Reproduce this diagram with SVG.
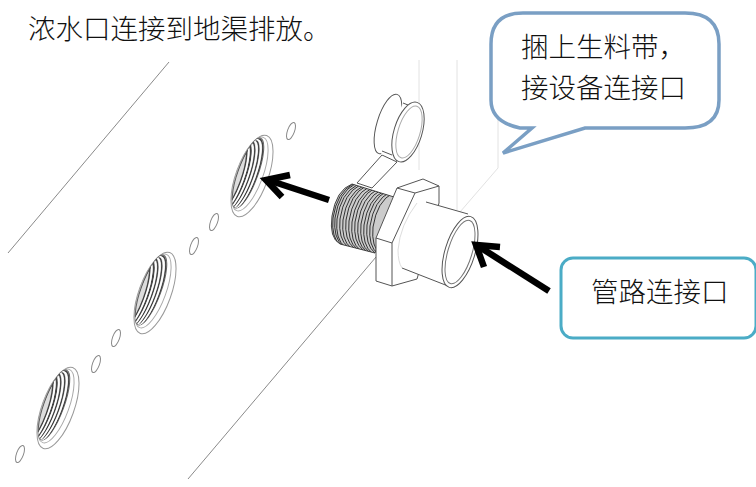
<svg xmlns="http://www.w3.org/2000/svg" width="756" height="487" viewBox="0 0 756 487">
<style>
.t{font-family:"Noto Sans CJK SC","Noto Sans CJK JP",sans-serif;font-size:27.5px;font-weight:300;fill:#111}
.l{fill:none;stroke:#8a8a8a;stroke-width:1}
.w{fill:#fff;stroke:#555;stroke-width:1;stroke-linejoin:round}
.n{fill:none;stroke:#555;stroke-width:1}
.f{fill:none;stroke:#e2e2e2;stroke-width:1}
.a{fill:none;stroke:#000;stroke-width:6.5}
.th{fill:none;stroke:#333;stroke-width:1}
.sm{fill:#fff;stroke:#888;stroke-width:1}
</style>
<defs>
<clipPath id="bore"><ellipse cx="0" cy="0" rx="10" ry="37" transform="rotate(20)"/></clipPath>
<clipPath id="threadclip"><path d="M352,184Q336,190 332,216Q329,238 340,244L375,253L394,197Z"/></clipPath>
<ellipse id="ring" cx="0" cy="0" rx="10" ry="37" transform="rotate(20)"/>
<path id="turn" d="M352,184Q336,192 332,218Q330,238 340,246"/>
<g id="port">
<ellipse cx="4" cy="3" rx="16" ry="43" transform="rotate(20 4 3)" fill="#fff" stroke="#999"/>
<ellipse cx="2" cy="1" rx="13" ry="39" transform="rotate(20 2 1)" fill="#fff" stroke="#aaa"/>
<ellipse cx="0" cy="0" rx="10" ry="37" transform="rotate(20)" fill="#ddd" stroke="#666"/>
<g clip-path="url(#bore)">
<g fill="none" stroke="#444" stroke-width="1.4">
<use href="#ring" x="-1" y="1"/>
<use href="#ring" x="-5" y="2"/>
<use href="#ring" x="-9" y="3"/>
<use href="#ring" x="-13" y="4" stroke-width="2"/>
<use href="#ring" x="-17" y="5"/>
</g>
<g fill="none" stroke="#fff" stroke-width="1.6">
<use href="#ring" x="-3" y="1.5"/>
<use href="#ring" x="-7" y="2.5"/>
<use href="#ring" x="-11" y="3.5"/>
<use href="#ring" x="-15" y="4.5"/>
</g>
</g>
</g>
</defs>
<g id="panel">
<path class="l" d="M8,253L169,62"/>
<path class="l" d="M188,479L376,257"/>
<path class="f" d="M419,60V170M457,60V210M498,120V168L460,212"/>
</g>
<g id="holes">
<use href="#port" x="248" y="173"/>
<use href="#port" x="151" y="290"/>
<use href="#port" x="54" y="405"/>
<ellipse class="sm" cx="291" cy="131" rx="3.5" ry="9" transform="rotate(20 291 131)"/>
<ellipse class="sm" cx="214" cy="222" rx="3.5" ry="9" transform="rotate(20 214 222)"/>
<ellipse class="sm" cx="194" cy="246" rx="3.5" ry="9" transform="rotate(20 194 246)"/>
<ellipse class="sm" cx="116" cy="338" rx="3.5" ry="9" transform="rotate(20 116 338)"/>
<ellipse class="sm" cx="96" cy="364" rx="3.5" ry="9" transform="rotate(20 96 364)"/>
<ellipse class="sm" cx="20" cy="454" rx="3.5" ry="9" transform="rotate(20 20 454)"/>
</g>
<g id="fitting">
<path class="w" d="M357,183L382,155L397,162L372,188Z"/>
<ellipse class="w" cx="388" cy="124" rx="11" ry="31" transform="rotate(17 388 124)"/>
<path d="M403,103L414,104L402,160L381,154Z" fill="#fff"/>
<path class="n" d="M403,103L408,105M382,151L392,155"/>
<ellipse class="w" cx="408" cy="132" rx="14" ry="31" transform="rotate(17 408 132)"/>
<ellipse cx="409" cy="132" rx="11" ry="27" transform="rotate(17 409 132)" fill="none" stroke="#aaa"/>
<path d="M352,184Q336,190 332,216Q329,238 340,244L375,253L394,197Z" fill="#ccc" stroke="#444"/>
<g clip-path="url(#threadclip)">
<g class="th">
<use href="#turn" x="1" y="0"/><use href="#turn" x="3" y="0"/><use href="#turn" x="5" y="1"/>
<use href="#turn" x="8" y="1"/><use href="#turn" x="11" y="2"/><use href="#turn" x="14" y="2"/>
<use href="#turn" x="17" y="3"/><use href="#turn" x="20" y="4"/><use href="#turn" x="23" y="4"/>
<use href="#turn" x="26" y="5"/><use href="#turn" x="29" y="6"/><use href="#turn" x="32" y="7"/>
<use href="#turn" x="35" y="7"/><use href="#turn" x="38" y="8"/><use href="#turn" x="41" y="9"/>
</g>
</g>
<path class="w" d="M397,188L423,179L439,186V203L417,279L392,286L376,281V238Z"/>
<path class="n" d="M397,188L415,193L439,186M415,193L392,243L376,238M392,243V286"/>
<path d="M426,202L468,214L476,232L462,282L448,286L402,268Q396,250 400,238Q408,216 418,200Z" fill="#fff"/>
<path class="n" d="M426,202L468,214M402,268L448,286"/>
<path d="M417,203Q400,225 398,250Q398,262 402,268" fill="none" stroke="#ddd"/>
<ellipse class="w" cx="460" cy="252" rx="15" ry="37" transform="rotate(17 460 252)"/>
<ellipse cx="460" cy="252" rx="12" ry="33" transform="rotate(17 460 252)" fill="none" stroke="#777"/>
</g>
<g id="connectors">
<path class="a" d="M329,200L268,180"/>
<path class="a" d="M290,175L266,180L282,197"/>
<path class="a" d="M549,291L478,246"/>
<path class="a" d="M500,247L476,245L484,267"/>
</g>
<text id="caption" class="t" x="28" y="39">浓水口连接到地渠排放。</text>
<g id="callout-seal">
<path d="M523,13H685Q719,13 719,44V100Q719,128 685,128H585L503,153L532,128H520Q491,122 491,100V44Q491,13 523,13Z" fill="#fff" stroke="#7a9fc4" stroke-width="3.5"/>
<text class="t" x="521" y="57">捆上生料带，</text>
<text class="t" x="521" y="98">接设备连接口</text>
</g>
<g id="callout-pipe">
<rect x="561" y="258" width="195" height="80" rx="12" fill="#fff" stroke="#4bacc6" stroke-width="3"/>
<text class="t" x="591" y="302">管路连接口</text>
</g>
</svg>
